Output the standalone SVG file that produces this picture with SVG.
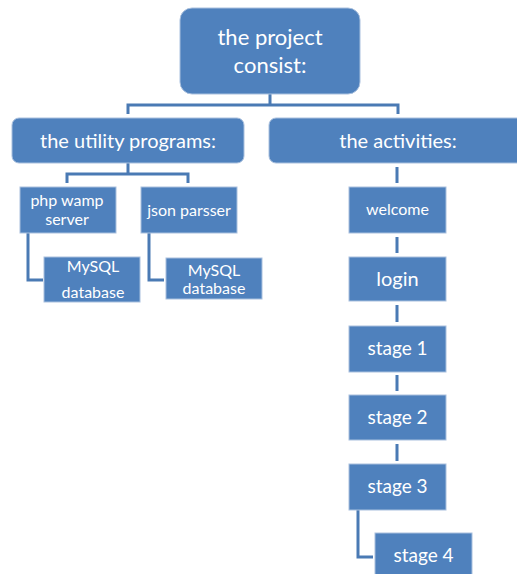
<svg xmlns="http://www.w3.org/2000/svg" width="517" height="574" viewBox="0 0 517 574">
<style>
.box{fill:#4F81BD;stroke:#A9C0DE;stroke-width:1}
.t{fill:#FFFFFF;font-family:Lato,"Open Sans",sans-serif;text-anchor:middle}
.c{fill:none;stroke:#4A7AB4;stroke-width:3}
</style>
<rect width="517" height="574" fill="#FFFFFF"/>
<g id="connectors">
<path class="c" d="M270,94 V105 M128,114 V105 H398 V114"/>
<path class="c" d="M128,163 V174 M67,183 V174 H188 V183"/>
<path class="c" d="M28,233 V280 H43"/>
<path class="c" d="M149,233 V280 H164"/>
<path class="c" d="M397,167 V183 M397,237 V253 M397,305 V322 M397,375 V391 M397,444 V461"/>
<path class="c" d="M358,510 V557 H373"/>
</g>
<g id="root">
<rect class="box" x="180" y="8" width="180" height="86" rx="12"/>
<text class="t" x="270" y="45" font-size="22">the project</text>
<text class="t" x="270" y="73" font-size="22">consist:</text>
</g>
<g id="utility">
<rect class="box" x="12" y="118" width="232" height="45" rx="7"/>
<text class="t" x="128" y="148" font-size="20">the utility programs:</text>
</g>
<g id="activities">
<rect class="box" x="269" y="118" width="258" height="45" rx="7"/>
<text class="t" x="398" y="148" font-size="20">the activities:</text>
</g>
<g id="php">
<rect class="box" x="20" y="187" width="96" height="46"/>
<text class="t" x="67" y="206" font-size="16">php wamp</text>
<text class="t" x="67" y="225" font-size="16">server</text>
</g>
<g id="json">
<rect class="box" x="141" y="187" width="96" height="46"/>
<text class="t" x="189" y="216" font-size="16">json parsser</text>
</g>
<g id="mysql1">
<rect class="box" x="44" y="257" width="96" height="45"/>
<text class="t" x="93" y="272" font-size="16">MySQL</text>
<text class="t" x="93" y="298" font-size="16">database</text>
</g>
<g id="mysql2">
<rect class="box" x="166" y="258" width="96" height="41"/>
<text class="t" x="214" y="276" font-size="16">MySQL</text>
<text class="t" x="214" y="294" font-size="16">database</text>
</g>
<g id="welcome">
<rect class="box" x="349" y="187" width="97" height="46"/>
<text class="t" x="397.5" y="215" font-size="16">welcome</text>
</g>
<g id="login">
<rect class="box" x="349" y="257" width="97" height="44"/>
<text class="t" x="397.5" y="286" font-size="20">login</text>
</g>
<g id="stage1">
<rect class="box" x="349" y="326" width="97" height="46"/>
<text class="t" x="397.5" y="355" font-size="19">stage 1</text>
</g>
<g id="stage2">
<rect class="box" x="349" y="395" width="97" height="45"/>
<text class="t" x="397.5" y="424" font-size="19">stage 2</text>
</g>
<g id="stage3">
<rect class="box" x="349" y="464" width="97" height="46"/>
<text class="t" x="397.5" y="493" font-size="19">stage 3</text>
</g>
<g id="stage4">
<rect class="box" x="375" y="533" width="97" height="46"/>
<text class="t" x="423.5" y="562" font-size="19">stage 4</text>
</g>
</svg>
